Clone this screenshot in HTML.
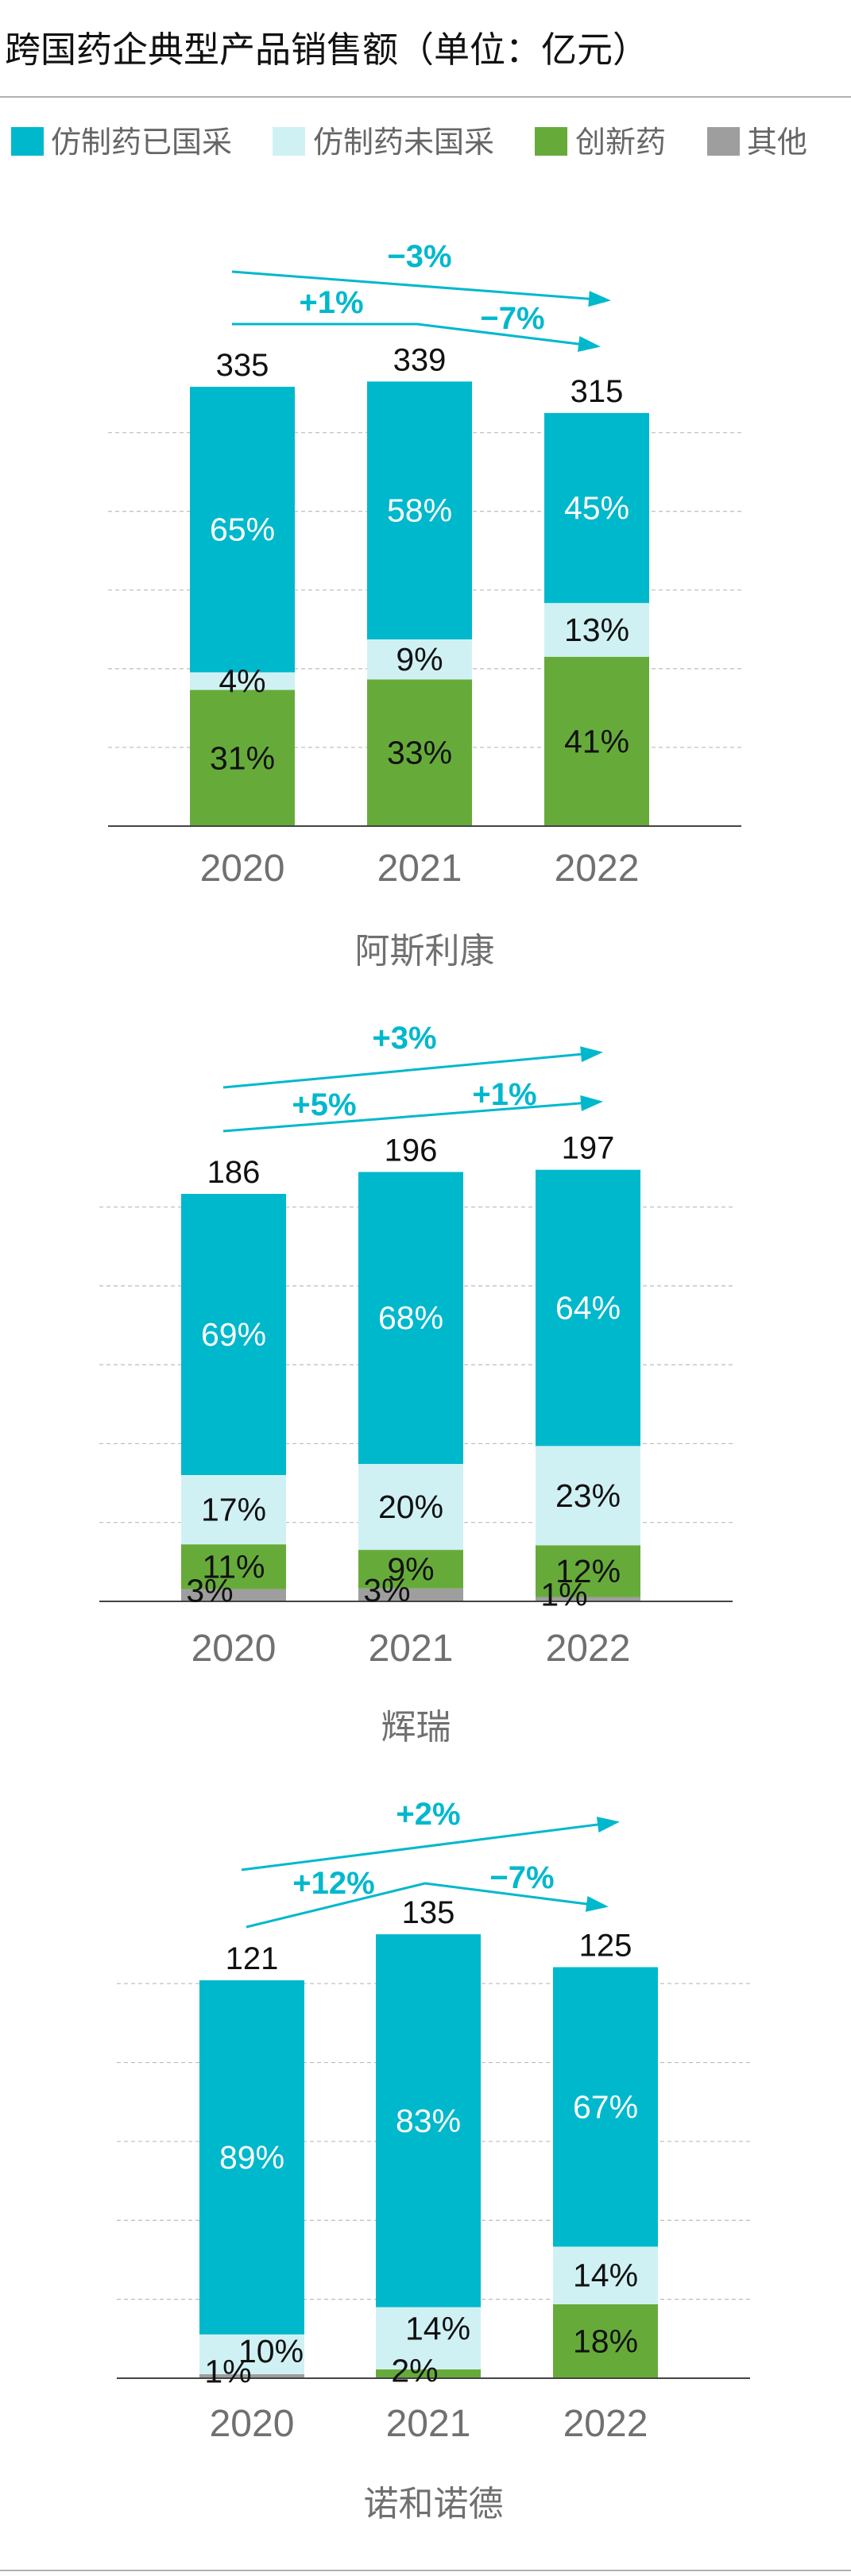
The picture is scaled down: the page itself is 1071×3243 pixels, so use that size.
<!DOCTYPE html>
<html><head><meta charset="utf-8">
<style>
html,body{margin:0;padding:0;background:#fff;}
body{width:1071px;height:3238px;overflow:hidden;position:relative;font-family:"Liberation Sans","Noto Sans CJK SC",sans-serif;}
svg text{font-family:"Liberation Sans","Noto Sans CJK SC",sans-serif;}
</style></head>
<body>
<svg id="chart" width="1071" height="3238" viewBox="0 0 1071 3238" xmlns="http://www.w3.org/2000/svg">
  <text x="6" y="78" font-size="45" fill="#111">跨国药企典型产品销售额（单位：亿元）</text>
  <line x1="0" y1="122" x2="1071" y2="122" stroke="#999" stroke-width="1.5"/>
  <g>
    <g><rect x="14" y="160" width="41" height="36" fill="#00b8cc"/><text x="64" y="192" font-size="38" fill="#666">仿制药已国采</text></g>
    <g><rect x="343" y="160" width="41" height="36" fill="#d0f1f4"/><text x="394" y="192" font-size="38" fill="#666">仿制药未国采</text></g>
    <g><rect x="673" y="160" width="41" height="36" fill="#66ab3a"/><text x="724" y="192" font-size="38" fill="#666">创新药</text></g>
    <g><rect x="890" y="160" width="41" height="36" fill="#9e9e9e"/><text x="940" y="192" font-size="38" fill="#666">其他</text></g>
  </g>
  <line x1="0" y1="3236" x2="1071" y2="3236" stroke="#999" stroke-width="1.5"/>
</svg>
<script>
const years = ["2020","2021","2022"];
// 阿斯利康
const azTotals = [335, 339, 315];
const azDark = [65, 58, 45];
const azLight = [4, 9, 13];
const azGreen = [31, 33, 41];
const azOther = [0, 0, 0];
const azTicks = [60, 120, 180, 240, 300];
const azGrowth = ["−3%", "+1%", "−7%"];
// 辉瑞
const pfTotals = [186, 196, 197];
const pfDark = [69, 68, 64];
const pfLight = [17, 20, 23];
const pfGreen = [11, 9, 12];
const pfOther = [3, 3, 1];
const pfTicks = [36, 72, 108, 144, 180];
const pfGrowth = ["+3%", "+5%", "+1%"];
// 诺和诺德
const nvTotals = [121, 135, 125];
const nvDark = [89, 83, 67];
const nvLight = [10, 14, 14];
const nvGreen = [0, 2, 18];
const nvOther = [1, 0, 0];
const nvTicks = [24, 48, 72, 96, 120];
const nvGrowth = ["+2%", "+12%", "−7%"];

const NS = "http://www.w3.org/2000/svg";
const svg = document.getElementById("chart");
const COLORS = {dark:"#00b8cc", light:"#d0f1f4", green:"#66ab3a", other:"#9e9e9e"};

function mk(tag, attrs, parent){
  const e = document.createElementNS(NS, tag);
  for (const k in attrs) e.setAttribute(k, attrs[k]);
  (parent||svg).appendChild(e);
  return e;
}

function drawChart(cfg){
  const g = mk("g", {});
  
  
  const y = v => cfg.base - v * cfg.scale;
  cfg.ticks.forEach(t => {
    const l = mk("line", {x1:cfg.x0, x2:cfg.x1, y1:y(t), y2:y(t), stroke:"#bbb", "stroke-width":1.2, "stroke-dasharray":"5,4"}, g);
    
    
  });
  const labels = [];
  years.forEach((yr, i) => {
    const bx = cfg.barX[i], bw = 132, cx = bx + bw/2, tot = cfg.totals[i];
    const segs = [
      {k:"other", p:cfg.other[i]},
      {k:"green", p:cfg.green[i]},
      {k:"light", p:cfg.light[i]},
      {k:"dark", p:cfg.dark[i]}
    ];
    let acc = 0;
    segs.forEach((s, si) => {
      if (s.p <= 0) return;
      const v0 = acc, v1 = (si === 3) ? tot : acc + tot * s.p / 100;
      acc = v1;
      const r = mk("rect", {x:bx, y:y(v1), width:bw, height:y(v0)-y(v1), fill:COLORS[s.k]}, g);
      
      
      const h = y(v0) - y(v1);
      let dx = 0, dy = 0;
      if (s.k === "other") { dx = -30; dy = -6; }
      else if (s.k === "green" && h < 40) { dx = cfg.other[i] > 0 ? 20 : -17; dy = -4; }
      else if (s.k === "light") {
        if (cfg.other[i] > 0 && cfg.green[i] === 0) { dx = 24; dy = -4; }
        else if (cfg.green[i] > 0 && cfg.green[i] < 5) { dx = 12; dy = -12; }
      }
      labels.push({x:cx+dx, y:(y(v0)+y(v1))/2 + 14 + dy, t:s.p + "%", fill: s.k==="dark" ? "#fff" : "#111", name:'segment-label-' + s.k + '-' + yr});
    });
    const tl = mk("text", {x:cx, y:y(tot)-14, "text-anchor":"middle", "font-size":40, fill:"#111"}, g);
    tl.textContent = tot;
    
    
    const xl = mk("text", {x:cx, y:cfg.yearY, "text-anchor":"middle", "font-size":48, fill:"#707070"}, g);
    xl.textContent = yr;
    
    
  });
  const ax = mk("line", {x1:cfg.x0, x2:cfg.x1, y1:cfg.base, y2:cfg.base, stroke:"#444", "stroke-width":2}, g);
  
  
  labels.forEach(L => {
    const t = mk("text", {x:L.x, y:L.y, "text-anchor":"middle", "font-size":41, fill:L.fill}, g);
    t.textContent = L.t;
    
    
  });
  const nm = mk("text", {x:(cfg.x0+cfg.x1)/2, y:cfg.nameY, "text-anchor":"middle", "font-size":44, fill:"#707070"}, g);
  nm.textContent = cfg.name;
  
  
  cfg.arrows.forEach((a, ai) => {
    const pts = a.pts;
    const pl = mk("polyline", {points: pts.map(p=>p.join(",")).join(" "), fill:"none", stroke:"#00b8cc", "stroke-width":3}, g);
    
    
    const p1 = pts[pts.length-2], p2 = pts[pts.length-1];
    const ang = Math.atan2(p2[1]-p1[1], p2[0]-p1[0]);
    const L = 24, W = 10;
    const bxp = p2[0] - L*Math.cos(ang), byp = p2[1] - L*Math.sin(ang);
    const hd = mk("polygon", {points: [
      [p2[0]+4*Math.cos(ang), p2[1]+4*Math.sin(ang)],
      [bxp - W*Math.sin(ang), byp + W*Math.cos(ang)],
      [bxp + W*Math.sin(ang), byp - W*Math.cos(ang)]
    ].map(p=>p.join(",")).join(" "), fill:"#00b8cc"}, g);
    
    
  });
  cfg.growthPos.forEach((p, gi) => {
    const t = mk("text", {x:p[0], y:p[1]+14, "text-anchor":"middle", "font-size":40, "font-weight":"bold", fill:"#00b8cc"}, g);
    t.textContent = cfg.growth[gi];
    
    
  });
}

drawChart({slug:"astrazeneca", name:"阿斯利康", totals:azTotals, dark:azDark, light:azLight, green:azGreen, other:azOther, ticks:azTicks, growth:azGrowth,
  base:1040, scale:1.651, x0:136, x1:933, barX:[239,462,685], yearY:1109, nameY:1212,
  arrows:[{pts:[[292,342],[765,378]]},{pts:[[292,408],[525,408],[752,436]]}],
  growthPos:[[528,322],[417,380],[645,400]]});
drawChart({slug:"pfizer", name:"辉瑞", totals:pfTotals, dark:pfDark, light:pfLight, green:pfGreen, other:pfOther, ticks:pfTicks, growth:pfGrowth,
  base:2016, scale:2.758, x0:125, x1:922, barX:[228,451,674], yearY:2091, nameY:2189,
  arrows:[{pts:[[281,1369],[755,1325]]},{pts:[[281,1424],[755,1387]]}],
  growthPos:[[509,1306],[408,1390],[635,1377]]});
drawChart({slug:"novartis", name:"诺和诺德", totals:nvTotals, dark:nvDark, light:nvLight, green:nvGreen, other:nvOther, ticks:nvTicks, growth:nvGrowth,
  base:2994, scale:4.14, x0:147, x1:944, barX:[251,473,696], yearY:3067, nameY:3167,
  arrows:[{pts:[[304,2354],[776,2294]]},{pts:[[310,2426],[535,2371],[762,2400]]}],
  growthPos:[[539,2283],[420,2370],[657,2363]]});
</script>
</body></html>
